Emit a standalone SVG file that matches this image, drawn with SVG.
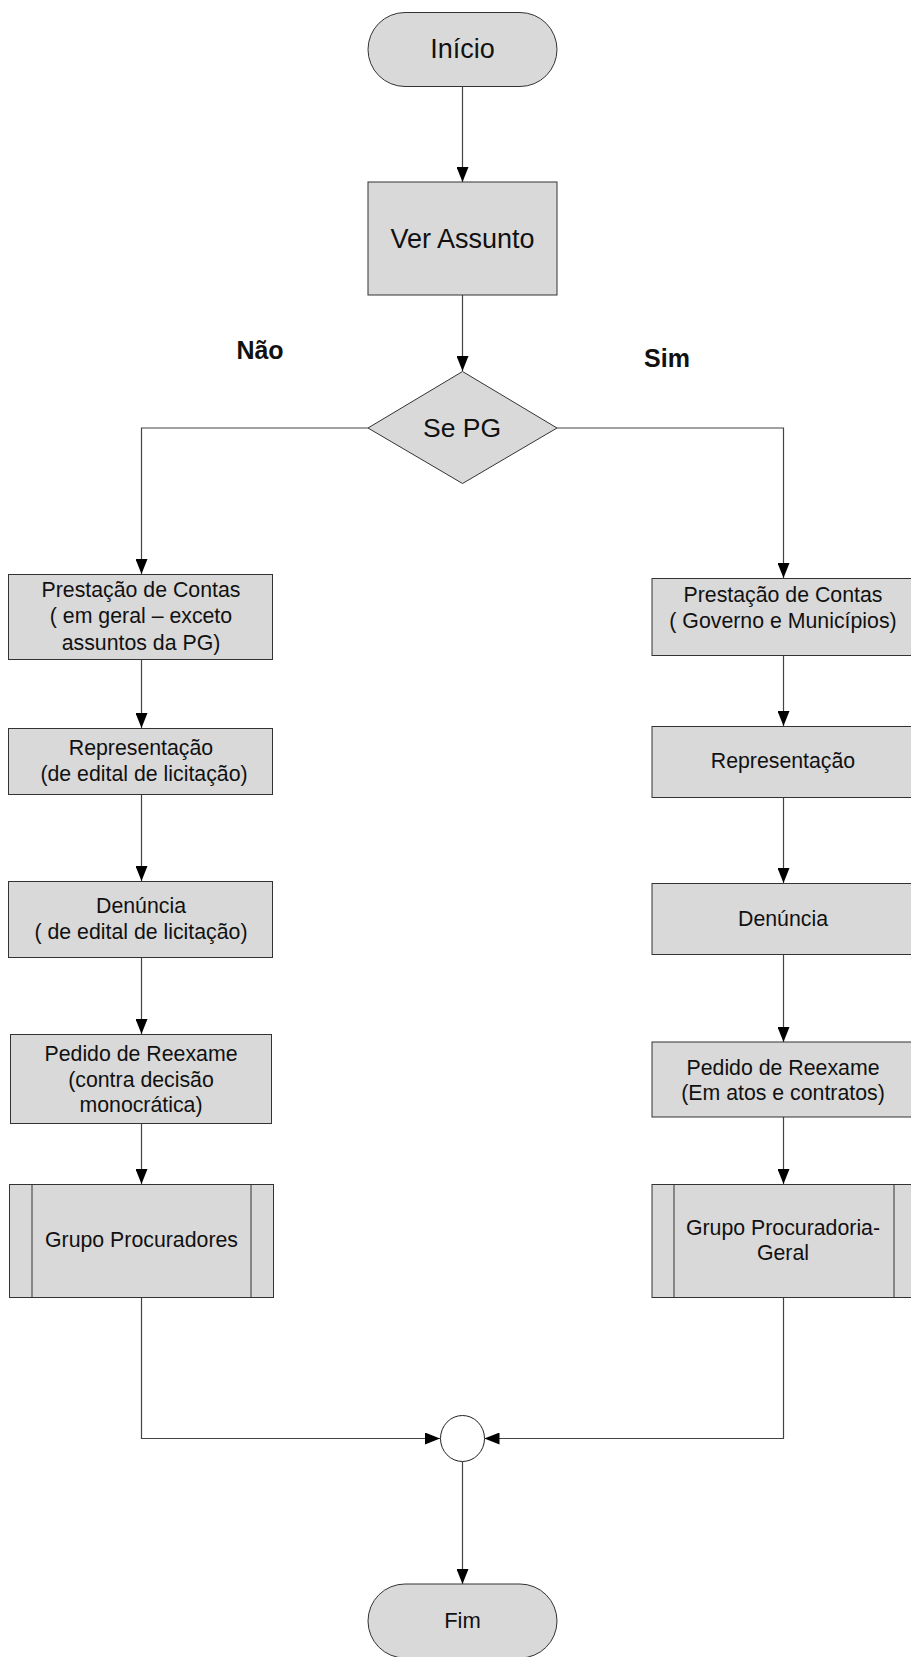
<svg xmlns="http://www.w3.org/2000/svg" width="911" height="1657" viewBox="0 0 911 1657">
<style>
.n{fill:#d9d9d9;stroke:#333;stroke-width:1}
.c{fill:none;stroke:#444;stroke-width:1.2}
.t{font-family:"Liberation Sans",Arial,sans-serif;fill:#111;text-anchor:middle}
.s20{font-size:21.3px}
.s26{font-size:27px}
.b{font-weight:bold;font-size:25px}
</style>
<defs>
<marker id="ar" viewBox="0 0 15 12" refX="15" refY="6" markerWidth="15" markerHeight="12" markerUnits="userSpaceOnUse" orient="auto">
<path d="M0,0 L15,6 L0,12 z" fill="#000"/>
</marker>
</defs>
<rect width="911" height="1657" fill="#fff"/>
<g id="connectors">
<path class="c" d="M462.5,87 V182" marker-end="url(#ar)"/>
<path class="c" d="M462.5,295 V371" marker-end="url(#ar)"/>
<path class="c" d="M368,428 H141.5 V574" marker-end="url(#ar)"/>
<path class="c" d="M557,428 H783.5 V578" marker-end="url(#ar)"/>
<path class="c" d="M141.5,659 V728" marker-end="url(#ar)"/>
<path class="c" d="M141.5,794 V881" marker-end="url(#ar)"/>
<path class="c" d="M141.5,957 V1034" marker-end="url(#ar)"/>
<path class="c" d="M141.5,1123 V1184" marker-end="url(#ar)"/>
<path class="c" d="M783.5,655 V726" marker-end="url(#ar)"/>
<path class="c" d="M783.5,797 V883" marker-end="url(#ar)"/>
<path class="c" d="M783.5,954 V1042" marker-end="url(#ar)"/>
<path class="c" d="M783.5,1117 V1184" marker-end="url(#ar)"/>
<path class="c" d="M141.5,1297 V1438.5 H440" marker-end="url(#ar)"/>
<path class="c" d="M783.5,1297 V1438.5 H484.5" marker-end="url(#ar)"/>
<path class="c" d="M462.5,1461.5 V1584" marker-end="url(#ar)"/>
</g>
<g id="inicio">
<rect class="n" x="368" y="12.5" width="189" height="74" rx="37"/>
<text class="t s26" x="462.5" y="58">Início</text>
</g>
<g id="ver-assunto">
<rect class="n" x="368" y="182" width="189" height="113"/>
<text class="t s26" x="462.5" y="248">Ver Assunto</text>
</g>
<g id="se-pg">
<polygon class="n" points="462.5,371.5 557,428 462.5,483.5 368,428"/>
<text class="t" style="font-size:26.5px" x="462" y="437">Se PG</text>
</g>
<g id="label-nao"><text class="t b" x="260" y="359">Não</text></g>
<g id="label-sim"><text class="t b" x="667" y="367">Sim</text></g>
<g id="l1">
<rect class="n" x="8.5" y="574.5" width="264" height="85"/>
<text class="t s20" x="141" y="597">Prestação de Contas</text>
<text class="t s20" x="141" y="623">( em geral – exceto</text>
<text class="t s20" x="141" y="650">assuntos da PG)</text>
</g>
<g id="l2">
<rect class="n" x="8.5" y="728.5" width="264" height="66"/>
<text class="t s20" x="141" y="755">Representação</text>
<text class="t s20" x="144" y="781">(de edital de licitação)</text>
</g>
<g id="l3">
<rect class="n" x="8.5" y="881.5" width="264" height="76"/>
<text class="t s20" x="141" y="913">Denúncia</text>
<text class="t s20" x="141" y="939">( de edital de licitação)</text>
</g>
<g id="l4">
<rect class="n" x="10.5" y="1034.5" width="261" height="89"/>
<text class="t s20" x="141" y="1061">Pedido de Reexame</text>
<text class="t s20" x="141" y="1087">(contra decisão</text>
<text class="t s20" x="141" y="1112">monocrática)</text>
</g>
<g id="l5">
<rect class="n" x="9.5" y="1184.5" width="264" height="113"/>
<line x1="32" y1="1184.5" x2="32" y2="1297.5" stroke="#333"/>
<line x1="251" y1="1184.5" x2="251" y2="1297.5" stroke="#333"/>
<text class="t s20" x="141.5" y="1247">Grupo Procuradores</text>
</g>
<g id="r1">
<rect class="n" x="652" y="578.5" width="264" height="77"/>
<text class="t s20" x="783" y="602">Prestação de Contas</text>
<text class="t s20" x="783" y="628">( Governo e Municípios)</text>
</g>
<g id="r2">
<rect class="n" x="652" y="726.5" width="264" height="71"/>
<text class="t s20" x="783" y="768">Representação</text>
</g>
<g id="r3">
<rect class="n" x="652" y="883.5" width="264" height="71"/>
<text class="t s20" x="783" y="926">Denúncia</text>
</g>
<g id="r4">
<rect class="n" x="652" y="1042" width="264" height="75"/>
<text class="t s20" x="783" y="1075">Pedido de Reexame</text>
<text class="t s20" x="783" y="1100">(Em atos e contratos)</text>
</g>
<g id="r5">
<rect class="n" x="652" y="1184.5" width="264" height="113"/>
<line x1="674" y1="1184.5" x2="674" y2="1297.5" stroke="#333"/>
<line x1="894" y1="1184.5" x2="894" y2="1297.5" stroke="#333"/>
<text class="t s20" x="783" y="1235">Grupo Procuradoria-</text>
<text class="t s20" x="783" y="1260">Geral</text>
</g>
<g id="merge">
<ellipse cx="462.5" cy="1438.5" rx="22" ry="23" fill="#fff" stroke="#222"/>
</g>
<g id="fim">
<rect class="n" x="368" y="1584" width="189" height="74" rx="37"/>
<text class="t" style="font-size:22px" x="462.5" y="1628">Fim</text>
</g>
</svg>
